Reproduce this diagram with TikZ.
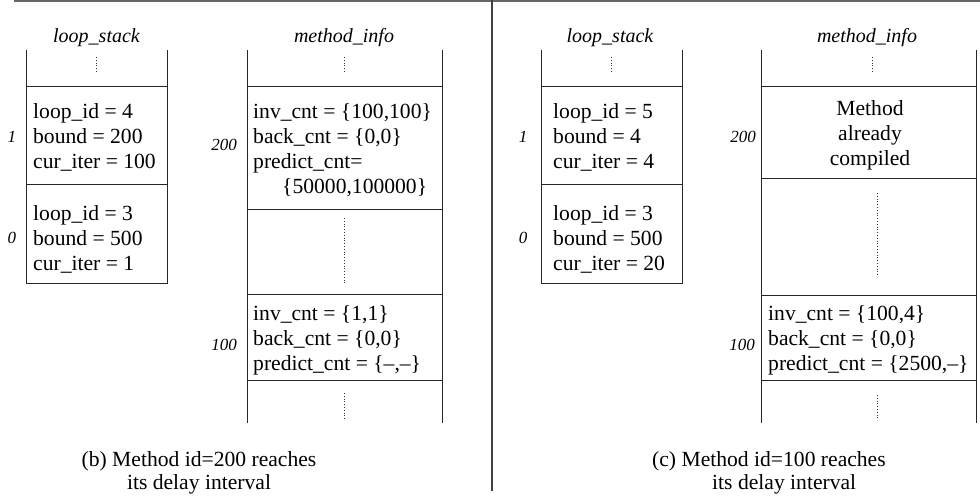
\documentclass[tikz,border=0pt]{standalone}
\usepackage{fontspec}
\setmainfont{Liberation Serif}
\begin{document}
\begin{tikzpicture}[x=1pt,y=-1pt,
  wall/.style={draw=black!85, line width=0.9pt},
  gap/.style={draw=black!80, dotted, line width=0.8pt},
  entry/.style={anchor=west, align=left, inner sep=0pt, font=\fontsize{21.6}{25}\selectfont},
  centry/.style={align=center, inner sep=0pt, font=\fontsize{21.6}{25}\selectfont},
  title/.style={inner sep=0pt, font=\fontsize{20}{24}\selectfont\itshape},
  idx/.style={inner sep=0pt, font=\fontsize{17}{20}\selectfont\itshape},
  caption/.style={inner sep=0pt, align=center, font=\fontsize{21.6}{23}\selectfont},
  capline/.style={inner sep=0pt, anchor=west, font=\fontsize{21.6}{23}\selectfont}]
\useasboundingbox (0,0) rectangle (980,500);

% frame rule and panel divider
\draw[line width=1.5pt, black!60] (14,1) -- (980,1);
\draw[line width=1.2pt, black!75] (492,0) -- (492,491);

% ---------------- panel (b) ----------------
% loop stack
\node[title] (bls) at (96.5,38) {loop\_stack};
\draw[wall] (26,50) -- (26,283) -- (167,283) -- (167,50);
\draw[wall] (26,86) -- (167,86) (26,184) -- (167,184);
\draw[gap] (96,57) -- (96,72);
\node[entry] (bl1) at (33,137.5) {loop\_id = 4\\bound = 200\\cur\_iter = 100};
\node[entry] (bl0) at (33,239) {loop\_id = 3\\bound = 500\\cur\_iter = 1};
\node[idx] (bi1) at (12,137) {1};
\node[idx] (bi0) at (12,238) {0};

% method info
\node[title] (bmi) at (344,38) {method\_info};
\draw[wall] (247,50) -- (247,423) (442,50) -- (442,423);
\draw[wall] (247,86) -- (442,86) (247,209) -- (442,209)
            (247,294) -- (442,294) (247,380) -- (442,380);
\draw[gap] (344,57) -- (344,72) (344,218) -- (344,283) (344,393) -- (344,420);
\node[entry] (bm200) at (253,150) {inv\_cnt = \{100,100\}\\back\_cnt = \{0,0\}\\predict\_cnt=\\\hspace*{29pt}\{50000,100000\}};
\node[entry] (bm100) at (253,340) {inv\_cnt = \{1,1\}\\back\_cnt = \{0,0\}\\predict\_cnt = \{--,--\}};
\node[idx] (bj200) at (224,145) {200};
\node[idx] (bj100) at (224,345) {100};

\node[caption] (bcap) at (199,473) {(b) Method id=200 reaches\\its delay interval};

% ---------------- panel (c) ----------------
% loop stack
\node[title] (cls) at (610,38) {loop\_stack};
\draw[wall] (541,50) -- (541,283) -- (682,283) -- (682,50);
\draw[wall] (541,86) -- (682,86) (541,184) -- (682,184);
\draw[gap] (611,57) -- (611,72);
\node[entry] (cl1) at (553,137.5) {loop\_id = 5\\bound = 4\\cur\_iter = 4};
\node[entry] (cl0) at (553,239) {loop\_id = 3\\bound = 500\\cur\_iter = 20};
\node[idx] (ci1) at (523,137) {1};
\node[idx] (ci0) at (523,238) {0};

% method info
\node[title] (cmi) at (867,38) {method\_info};
\draw[wall] (761,50) -- (761,423) (976,50) -- (976,423);
\draw[wall] (761,86) -- (976,86) (761,178) -- (976,178)
            (761,295) -- (976,295) (761,380) -- (976,380);
\draw[gap] (872,57) -- (872,72) (877,193) -- (877,277) (877,395) -- (877,420);
\node[centry] (cm200) at (870,135) {Method\\already\\compiled};
\node[entry] (cm100) at (768,340) {inv\_cnt = \{100,4\}\\back\_cnt = \{0,0\}\\predict\_cnt = \{2500,--\}};
\node[idx] (cj200) at (743,137) {200};
\node[idx] (cj100) at (742,345) {100};

\node[capline] (ccap1) at (652,461.5) {(c) Method id=100 reaches};
\node[capline] (ccap2) at (712,484.5) {its delay interval};
\end{tikzpicture}
\end{document}
